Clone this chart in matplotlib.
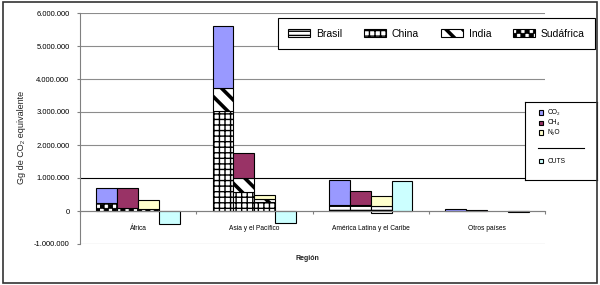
import warnings
import matplotlib
matplotlib.use('Agg')
import matplotlib.pyplot as plt
import matplotlib.hatch as mhatch
from matplotlib.path import Path
from matplotlib.patches import Patch, Rectangle
import numpy as np

warnings.filterwarnings('ignore')

plt.rcParams['font.family'] = ['Liberation Sans', 'DejaVu Sans']
plt.rcParams['hatch.linewidth'] = 1.0

# data (Gg CO2 equivalente)
regions = ['África', 'Asia y el Pacífico', 'América Latina y el Caribe', 'Otros países']

co2_total = [690000, 5600000, 930000, 50000]
co2_brasil = [0, 0, 170000, 0]
co2_china = [0, 3030000, 0, 0]
co2_india = [0, 690000, 0, 0]
co2_sudafrica = [250000, 0, 0, 0]

ch4_total = [690000, 1770000, 600000, 20000]
ch4_brasil = [0, 0, 170000, 0]
ch4_china = [0, 580000, 0, 0]
ch4_india = [0, 430000, 0, 0]
ch4_sudafrica = [100000, 0, 0, 0]

n2o_total = [330000, 500000, 450000, 0]
n2o_brasil = [0, 0, 160000, 0]
n2o_brasil_neg = [0, 0, -70000, 0]
n2o_china = [0, 270000, 0, 0]
n2o_india = [0, 80000, 0, 0]
n2o_sudafrica = [50000, 0, 0, 0]

cuts = [-400000, -370000, 900000, -25000]

countries = ['Brasil', 'China', 'India', 'Sudáfrica']
gases = ['CO₂', 'CH₄', 'N₂O']
gas_colors = ['#9999ff', '#993366', '#ffffcc']
cuts_color = '#ccffff'
hatches = ['----', '+++', '\\\\', 'cccc']
hatch_lw = [1.0, 1.0, 2.6, 0.6]


# checkerboard hatch for Sudáfrica
class CheckerHatch(mhatch.HatchPatternBase):
    filled = True

    def __init__(self, hatch, density):
        self.n = int(hatch.count('c') * density)
        self.n -= self.n % 2
        self.num_vertices = 5 * (self.n * self.n // 2)

    def set_vertices_and_codes(self, vertices, codes):
        s = 1.0 / self.n
        k = 0
        for i in range(self.n):
            for j in range(self.n):
                if (i + j) % 2:
                    continue
                x0, y0 = i * s, j * s
                vertices[k:k + 5] = [(x0, y0), (x0 + s, y0), (x0 + s, y0 + s),
                                     (x0, y0 + s), (x0, y0)]
                codes[k:k + 5] = [Path.MOVETO, Path.LINETO, Path.LINETO,
                                  Path.LINETO, Path.CLOSEPOLY]
                k += 5


mhatch._hatch_types.append(CheckerHatch)


def set_hlw(artist, lw):
    if hasattr(artist, 'set_hatch_linewidth'):
        artist.set_hatch_linewidth(lw)


fig = plt.figure(figsize=(6, 2.85), dpi=100)
ax = fig.add_axes([80 / 600, 1 - 244 / 285, 465 / 600, 231 / 285])

x = np.arange(len(regions))
width = 0.18
offsets = [-0.27, -0.09, 0.09, 0.27]

gas_data = [
    (co2_total, [co2_brasil, co2_china, co2_india, co2_sudafrica]),
    (ch4_total, [ch4_brasil, ch4_china, ch4_india, ch4_sudafrica]),
    (n2o_total, [n2o_brasil, n2o_china, n2o_india, n2o_sudafrica]),
]

for g, (total, parts) in enumerate(gas_data):
    xs = x + offsets[g]
    bottom = np.zeros(len(regions))
    for c, vals in enumerate(parts):
        vals = np.array(vals, dtype=float)
        m = vals != 0
        if m.any():
            bars = ax.bar(xs[m], vals[m], width, bottom=bottom[m], color='white',
                          edgecolor='black', hatch=hatches[c], linewidth=0.8)
            for b in bars:
                set_hlw(b, hatch_lw[c])
        bottom += vals
    rest = np.array(total, dtype=float) - bottom
    m = np.array(total) != 0
    ax.bar(xs[m], rest[m], width, bottom=bottom[m], color=gas_colors[g],
           edgecolor='black', linewidth=0.8)

neg = np.array(n2o_brasil_neg, dtype=float)
m = neg != 0
ax.bar((x + offsets[2])[m], neg[m], width, color='white', edgecolor='black',
       hatch=hatches[0], linewidth=0.8)

ax.bar(x + offsets[3], cuts, width, color=cuts_color, edgecolor='black', linewidth=0.8)

# axes
ax.set_xlim(-0.5, 3.5)
ax.set_ylim(-1000000, 6000000)
yt = np.arange(-1000000, 6000001, 1000000)
ax.set_yticks(yt)
ax.set_yticklabels(['{:,.0f}'.format(v).replace(',', '.') for v in yt], fontsize=5.5)
ax.tick_params(axis='y', length=2.5, width=0.8, color='#808080', pad=5)

ax.spines['bottom'].set_position(('data', 0))
ax.spines['top'].set_visible(False)
ax.spines['right'].set_visible(False)
ax.spines['left'].set_color('#808080')
ax.spines['bottom'].set_color('#808080')

ax.set_xticks(x)
ax.set_xticklabels(regions, fontsize=4.8)
ax.tick_params(axis='x', which='major', length=0, pad=10)
ax.set_xticks(np.arange(-0.5, 4, 1), minor=True)
ax.tick_params(axis='x', which='minor', length=2.5, width=0.8, color='#808080')

ax.grid(axis='y', color='#8c8c8c', linewidth=0.8)
ax.set_axisbelow(True)
ax.yaxis.get_major_ticks()[2].gridline.set_color('black')

# labels
fig.text(21 / 600, 1 - 137 / 285, 'Gg de CO₂ equivalente', rotation=90,
         ha='center', va='center', fontsize=6.5, color='#222222')
fig.text(307 / 600, 1 - 258 / 285, 'Región', ha='center', va='center',
         fontsize=5, fontweight='bold', color='#222222')

# country legend
handles = [Patch(facecolor='white', edgecolor='black', hatch=h, linewidth=0.8)
           for h in hatches]
leg = fig.legend(handles, countries, ncol=4, loc='lower left',
                 bbox_to_anchor=(278 / 600, 1 - 49 / 285, 317 / 600, 32 / 285),
                 mode='expand', fontsize=7.5, handlelength=2.1, handleheight=0.8,
                 handletextpad=0.55, borderpad=1.0, borderaxespad=0,
                 fancybox=False, framealpha=1, edgecolor='black')
leg.get_frame().set_linewidth(0.8)
for h, lw in zip(leg.legend_handles, hatch_lw):
    set_hlw(h, lw)

# gas legend
lax = fig.add_axes([525 / 600, 1 - 180 / 285, 72 / 600, 78 / 285])
lax.set_xlim(525, 597)
lax.set_ylim(180, 102)
lax.set_xticks([])
lax.set_yticks([])
for s in lax.spines.values():
    s.set_linewidth(0.8)
    s.set_color('black')
ys = [110, 120.5, 130]
for g in range(3):
    lax.add_patch(Rectangle((539, ys[g]), 4, 4.5, facecolor=gas_colors[g],
                            edgecolor='black', linewidth=0.8))
    lax.text(548, ys[g] + 2.3, gases[g], fontsize=4.8, va='center', ha='left')
lax.plot([538, 584], [147.5, 147.5], color='black', linewidth=0.8)
lax.add_patch(Rectangle((539, 158.5), 4, 4.5, facecolor=cuts_color,
                        edgecolor='black', linewidth=0.8))
lax.text(548, 161, 'CUTS', fontsize=4.8, va='center', ha='left')

# chart frame
fig.add_artist(Rectangle((3 / 600, 2 / 285), 594 / 600, 281 / 285,
                         transform=fig.transFigure, fill=False,
                         edgecolor='#333333', linewidth=1.2))

fig.savefig('out.png', dpi=100)
